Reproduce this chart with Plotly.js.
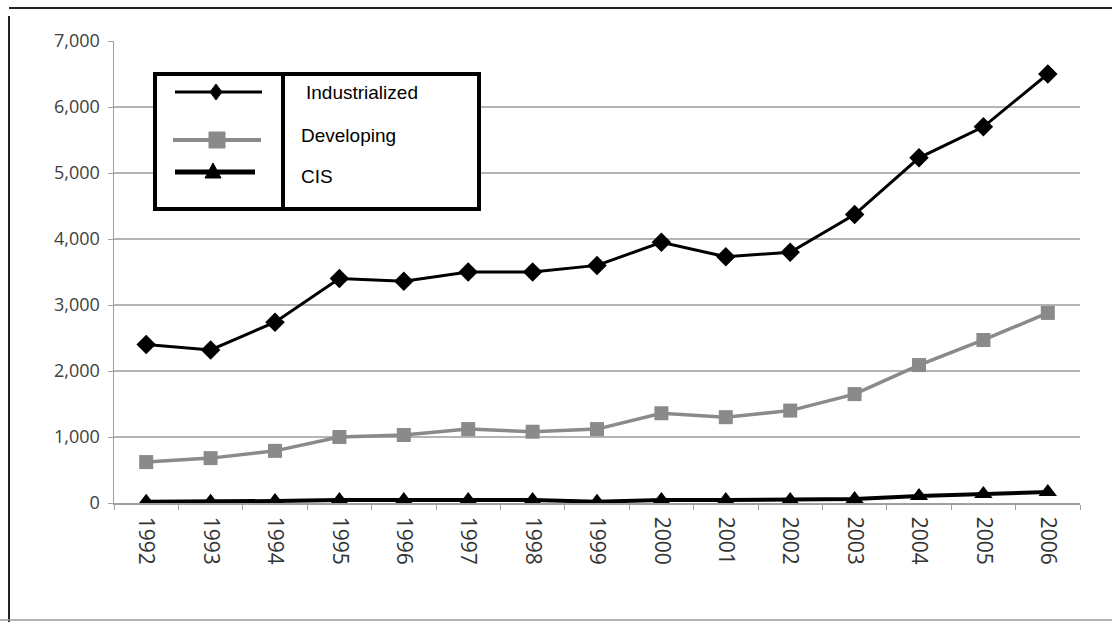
<!DOCTYPE html>
<html><head><meta charset="utf-8">
<script src="https://cdn.plot.ly/plotly-3.0.1.min.js"></script>
<style>html,body{margin:0;padding:0;background:#fff}#c{width:1112px;height:622px}</style>
</head><body><div id="c"></div>
<script>
var years = ['1992','1993','1994','1995','1996','1997','1998','1999','2000','2001','2002','2003','2004','2005','2006'];
var industrialized = [2400,2320,2740,3400,3360,3500,3500,3600,3950,3730,3800,4370,5230,5700,6500];
var developing = [620,680,790,1000,1030,1120,1080,1120,1360,1300,1400,1650,2090,2470,2880];
var cis = [20,20,30,45,45,45,45,20,45,45,45,60,106,136,167];
var legendNames = ['Industrialized','Developing','CIS'];

// plot area geometry (pixels) used to convert decoration positions to paper coords
var L=114, R=1080, T=41, B=503;
function u(px){return (px-L)/(R-L);}
function v(py){return (B-py)/(B-T);}

var traces = [
 {x:years,y:industrialized,name:legendNames[0],mode:'lines+markers',line:{color:'#000',width:3},marker:{symbol:'diamond',size:15,color:'#000'}},
 {x:years,y:developing,name:legendNames[1],mode:'lines+markers',line:{color:'#8a8a8a',width:3.5},marker:{symbol:'square',size:14,color:'#8a8a8a'}},
 {x:years,y:cis,name:legendNames[2],mode:'lines+markers',line:{color:'#000',width:4},marker:{symbol:'triangle-up',size:16,color:'#000'}}
];

var shapes = [
 // outer frame
 {type:'line',xref:'paper',yref:'paper',x0:u(9),x1:u(1112),y0:v(8),y1:v(8),line:{color:'#222',width:2}},
 {type:'line',xref:'paper',yref:'paper',x0:u(9),x1:u(9),y0:v(16),y1:v(622),line:{color:'#222',width:2}},
 {type:'line',xref:'paper',yref:'paper',x0:u(0),x1:u(1112),y0:v(620),y1:v(620),line:{color:'#999',width:1.5}},
 // legend box
 {type:'rect',xref:'paper',yref:'paper',x0:u(155),x1:u(479),y0:v(74),y1:v(209),fillcolor:'#fff',line:{color:'#000',width:4},layer:'above'},
 {type:'line',xref:'paper',yref:'paper',x0:u(283),x1:u(283),y0:v(74),y1:v(209),line:{color:'#000',width:4},layer:'above'},
 // legend symbols
 {type:'line',xref:'paper',yref:'paper',x0:u(175),x1:u(262),y0:v(92),y1:v(92),line:{color:'#000',width:3},layer:'above'},
 {type:'line',xref:'paper',yref:'paper',x0:u(173),x1:u(261),y0:v(140),y1:v(140),line:{color:'#8a8a8a',width:4},layer:'above'},
 {type:'line',xref:'paper',yref:'paper',x0:u(175),x1:u(255),y0:v(172),y1:v(172),line:{color:'#000',width:5},layer:'above'},
 {type:'path',xref:'paper',yref:'paper',xsizemode:'pixel',ysizemode:'pixel',xanchor:u(216),yanchor:v(92),path:'M0,8 L6,0 L0,-8 L-6,0 Z',fillcolor:'#000',line:{color:'#000',width:1},layer:'above'},
 {type:'path',xref:'paper',yref:'paper',xsizemode:'pixel',ysizemode:'pixel',xanchor:u(217),yanchor:v(140),path:'M-8,-8 L8,-8 L8,8 L-8,8 Z',fillcolor:'#8a8a8a',line:{color:'#8a8a8a',width:1},layer:'above'},
 {type:'path',xref:'paper',yref:'paper',xsizemode:'pixel',ysizemode:'pixel',xanchor:u(213),yanchor:v(172),path:'M0,9 L8,-6 L-8,-6 Z',fillcolor:'#000',line:{color:'#000',width:1},layer:'above'}
];

var annFont = {family:'Liberation Sans, Arial, sans-serif',size:19,color:'#000'};
var annotations = [
 {xref:'paper',yref:'paper',x:u(304),y:v(92),text:legendNames[0],showarrow:false,xanchor:'left',yanchor:'middle',font:annFont},
 {xref:'paper',yref:'paper',x:u(299),y:v(135),text:legendNames[1],showarrow:false,xanchor:'left',yanchor:'middle',font:annFont},
 {xref:'paper',yref:'paper',x:u(299),y:v(176),text:legendNames[2],showarrow:false,xanchor:'left',yanchor:'middle',font:annFont}
];

var layout = {
 width:1112,height:622,
 margin:{l:L,r:1112-R,t:T,b:622-B,pad:0},
 paper_bgcolor:'#fff',plot_bgcolor:'#fff',
 showlegend:false,
 font:{family:'Open Sans, Liberation Sans, sans-serif',color:'#404040',size:16},
 xaxis:{type:'category',range:[-0.5,14.5],tickangle:90,showgrid:false,showline:true,linecolor:'#a0a0a0',linewidth:1.5,
   ticks:'outside',tickson:'boundaries',ticklen:5,tickcolor:'#a0a0a0',ticklabelstandoff:8,tickfont:{size:21,color:'#333'},zeroline:false,fixedrange:true},
 yaxis:{range:[0,7000],dtick:1000,tickformat:',d',showgrid:true,gridcolor:'#b4b4b4',gridwidth:1.5,showline:true,linecolor:'#a0a0a0',linewidth:1.5,
   ticks:'outside',ticklen:5,tickcolor:'#a0a0a0',ticklabelstandoff:4,zeroline:false,tickfont:{size:18,color:'#404040'},fixedrange:true},
 shapes:shapes,annotations:annotations
};
Plotly.newPlot('c',traces,layout,{staticPlot:true});
</script></body></html>
